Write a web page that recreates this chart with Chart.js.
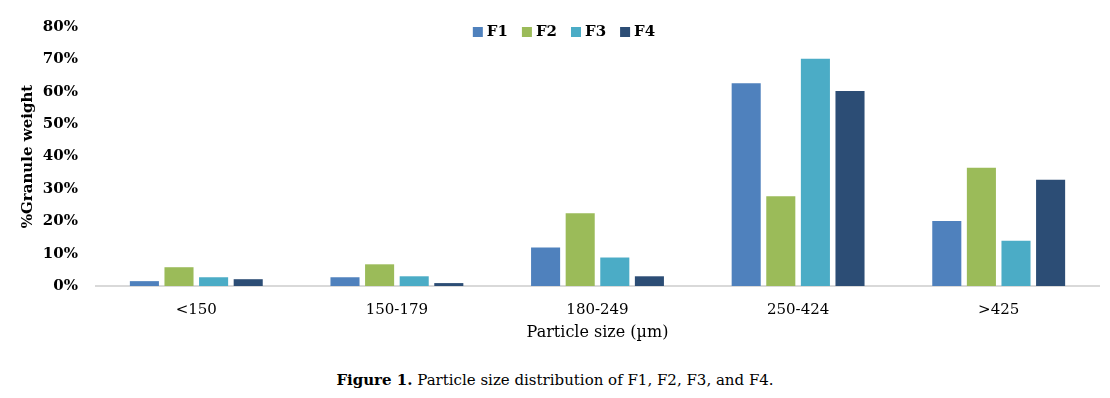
<!DOCTYPE html>
<html>
<head>
<meta charset="utf-8">
<script src="https://cdn.jsdelivr.net/npm/chart.js@4"></script>
<style>
  body { margin: 0; background: #fff; }
  #wrap { position: relative; width: 1110px; height: 398px; }
  #box { position: absolute; left: 0; top: 0; width: 1110px; height: 350px; }
  #caption {
    position: absolute; left: 0; top: 371px; width: 1110px; text-align: center;
    font-family: "DejaVu Serif", serif; font-size: 15px; color: #000;
  }
</style>
</head>
<body>
<div id="wrap">
  <div id="box"><canvas id="bar-Chart"></canvas></div>
  <div id="caption"><b>Figure 1.</b> Particle size distribution of F1, F2, F3, and F4.</div>
</div>
<script>
const sizes = ["<150", "150-179", "180-249", "250-424", ">425"];
const f1 = [1.5, 2.7, 11.9, 62.6, 20.1];
const f2 = [5.8, 6.7, 22.5, 27.7, 36.5];
const f3 = [2.7, 3.0, 8.8, 70.2, 14.0];
const f4 = [2.1, 0.9, 3.0, 60.2, 32.8];
const yTicks = [0, 10, 20, 30, 40, 50, 60, 70, 80];

const serif = "'DejaVu Serif', serif";

// legend drawn on top of the plot area, in one row like the original
const topLegend = {
  id: "topLegend",
  afterDraw(chart) {
    const c = chart.ctx;
    c.save();
    c.font = "bold 15px " + serif;
    c.textBaseline = "middle";
    const items = chart.data.datasets.map((d) => ({ text: d.label, color: d.backgroundColor, w: c.measureText(d.label).width }));
    const box = 10, gap = 4, spacing = 14;
    let total = 0;
    items.forEach((it, i) => { total += box + gap + it.w + (i < items.length - 1 ? spacing : 0); });
    let x = chart.width / 2 + 9 - total / 2;
    const y = 32;
    items.forEach((it) => {
      c.fillStyle = it.color;
      c.fillRect(x, y - box / 2, box, box);
      c.fillStyle = "#000";
      c.fillText(it.text, x + box + gap, y);
      x += box + gap + it.w + spacing;
    });
    c.restore();
  },
};

const ctx = document.getElementById("bar-Chart");
const chart = new Chart(ctx, {
  type: "bar",
  data: {
    labels: sizes,
    datasets: [
      { label: "F1", data: f1, backgroundColor: "#4F81BD" },
      { label: "F2", data: f2, backgroundColor: "#9BBB59" },
      { label: "F3", data: f3, backgroundColor: "#4BACC6" },
      { label: "F4", data: f4, backgroundColor: "#2C4D75" },
    ],
  },
  plugins: [topLegend],
  options: {
    responsive: true,
    maintainAspectRatio: false,
    animation: false,
    categoryPercentage: 0.69,
    barPercentage: 0.84,
    layout: { padding: { left: 10, right: 11, top: 14, bottom: 6 } },
    plugins: {
      legend: { display: false },
      tooltip: { enabled: false },
    },
    scales: {
      x: {
        afterFit: (axis) => { axis.height = 58; },
        grid: { display: false, drawTicks: false },
        border: { color: "#D9D9D9", width: 2 },
        ticks: { color: "#000", font: { family: serif, size: 15 }, padding: 15 },
        title: {
          display: true,
          text: "Particle size (µm)",
          color: "#000",
          font: { family: serif, size: 16 },
          padding: { top: 0, bottom: 2 },
        },
      },
      y: {
        min: 0,
        max: 80,
        afterBuildTicks: (axis) => { axis.ticks = yTicks.map((v) => ({ value: v })); },
        afterFit: (axis) => { axis.width = 86; },
        grid: { display: false, drawTicks: false },
        border: { display: false },
        ticks: {
          color: "#000",
          font: { family: serif, size: 15, weight: "bold" },
          padding: 18,
          callback: (v) => v + "%",
        },
        title: {
          display: true,
          text: "%Granule weight",
          color: "#000",
          font: { family: serif, size: 15, weight: "bold" },
          padding: { top: 9, bottom: 0 },
        },
      },
    },
  },
});
</script>
</body>
</html>
